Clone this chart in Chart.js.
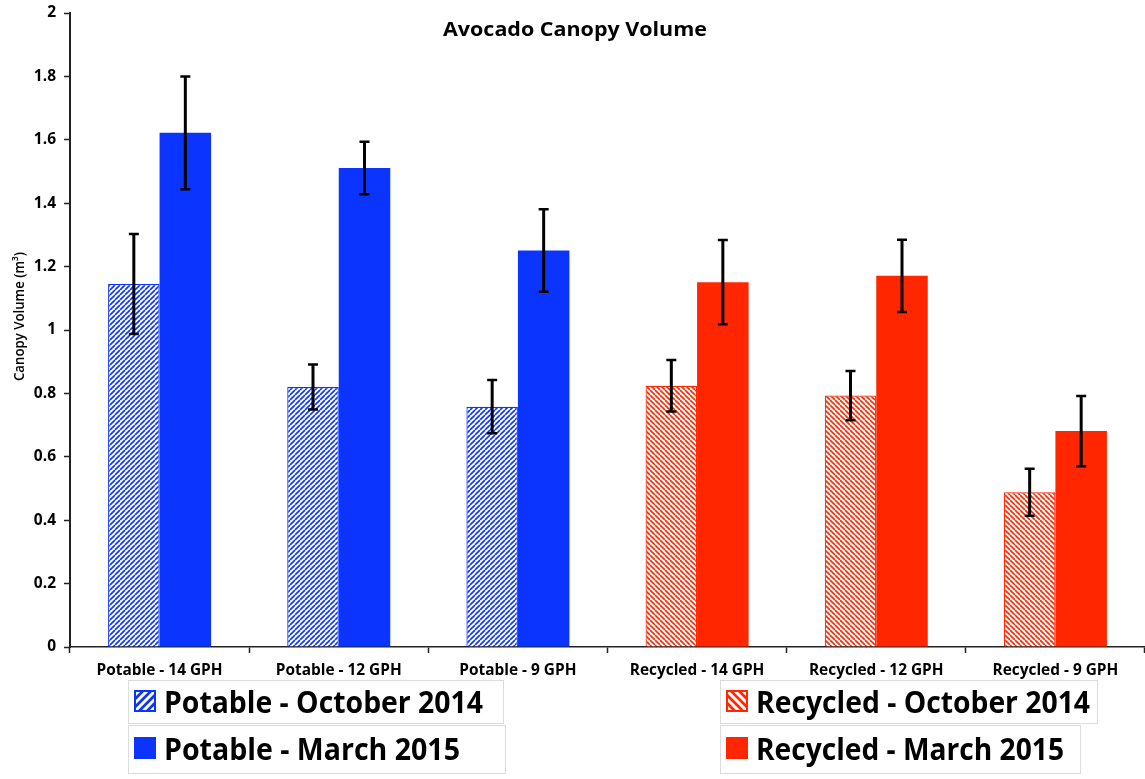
<!DOCTYPE html>
<html>
<head>
<meta charset="utf-8">
<style>
  html, body { margin: 0; padding: 0; background: #ffffff; }
  #wrap { position: relative; width: 1145px; height: 779px; }
</style>
<script src="https://cdn.jsdelivr.net/npm/chart.js@4.4.1/dist/chart.umd.min.js"></script>
</head>
<body>
<div id="wrap"><canvas id="chart" width="1145" height="779"></canvas></div>
<script>
// Treatments along the x axis
const categories = [
  'Potable - 14 GPH', 'Potable - 12 GPH', 'Potable - 9 GPH',
  'Recycled - 14 GPH', 'Recycled - 12 GPH', 'Recycled - 9 GPH'
];
// Water source of each treatment (decides bar colour)
const waterSource = ['potable', 'potable', 'potable', 'recycled', 'recycled', 'recycled'];

// Canopy volume (m³), mean and error per treatment
const october2014 = [1.145, 0.820, 0.758, 0.824, 0.793, 0.488];
const october2014Err = [0.158, 0.071, 0.084, 0.081, 0.078, 0.074];
const march2015 = [1.622, 1.511, 1.251, 1.151, 1.171, 0.681];
const march2015Err = [0.178, 0.083, 0.130, 0.133, 0.114, 0.111];

const yTicks = [0, 0.2, 0.4, 0.6, 0.8, 1, 1.2, 1.4, 1.6, 1.8, 2];

const legendLeft = ['Potable - October 2014', 'Potable - March 2015'];
const legendRight = ['Recycled - October 2014', 'Recycled - March 2015'];

const BLUE = '#0b34ff';
const RED = '#ff2600';
const FONT = '"Open Sans", "DejaVu Sans", sans-serif';

function textWidth(text, weight, size) {
  const c = document.createElement('canvas').getContext('2d');
  c.font = weight + ' ' + size + 'px ' + FONT;
  return c.measureText(text).width;
}
function fitSize(text, weight, target) {
  return 100 * target / textWidth(text, weight, 100);
}
// Draw text at a given font size, scaled horizontally to a given width
function squeezedText(g, text, weight, size, x, y, width) {
  const w = textWidth(text, weight, size);
  g.save();
  g.font = weight + ' ' + size + 'px ' + FONT;
  g.translate(x, y);
  g.scale(width / w, 1);
  g.fillText(text, 0, 0);
  g.restore();
}

function hatch(color, forward, size, lw) {
  const c = document.createElement('canvas');
  c.width = size; c.height = size;
  const g = c.getContext('2d');
  g.fillStyle = '#ffffff';
  g.fillRect(0, 0, size, size);
  g.strokeStyle = color;
  g.lineWidth = lw;
  g.beginPath();
  for (let k = -1; k <= 1; k++) {
    if (forward) {
      g.moveTo(k * size, size); g.lineTo(k * size + size, 0);
    } else {
      g.moveTo(k * size, 0); g.lineTo(k * size + size, size);
    }
  }
  g.stroke();
  return g.createPattern(c, 'repeat');
}

const ctx0 = document.getElementById('chart').getContext('2d');
const blueHatch = hatch(BLUE, true, 5, 1.6);
const redHatch = hatch(RED, false, 5, 1.6);

const colorOf = s => s === 'potable' ? BLUE : RED;
const hatchOf = s => s === 'potable' ? blueHatch : redHatch;

const xTickSize = fitSize('Potable - 14 GPH', '700', 126);

// Error bars for each dataset, drawn through the value scale
const errorBars = {
  id: 'errorBars',
  afterDatasetsDraw(chart) {
    const g = chart.ctx;
    const y = chart.scales.y;
    g.save();
    g.strokeStyle = '#000000';
    chart.data.datasets.forEach((ds, di) => {
      const meta = chart.getDatasetMeta(di);
      meta.data.forEach((bar, i) => {
        const v = ds.data[i], e = ds.errors[i];
        const top = y.getPixelForValue(v + e);
        const bot = y.getPixelForValue(v - e);
        const x = bar.x;
        g.lineWidth = 3;
        g.beginPath(); g.moveTo(x, top); g.lineTo(x, bot); g.stroke();
        g.lineWidth = 2.5;
        g.beginPath();
        g.moveTo(x - 5, top); g.lineTo(x + 5, top);
        g.moveTo(x - 5, bot); g.lineTo(x + 5, bot);
        g.stroke();
      });
    });
    g.restore();
  }
};

// Title, y axis title and the two legend panels
const decorations = {
  id: 'decorations',
  afterDraw(chart) {
    const g = chart.ctx;
    g.save();
    g.fillStyle = '#000000';
    g.textAlign = 'left'; g.textBaseline = 'alphabetic';
    // chart title
    squeezedText(g, 'Avocado Canopy Volume', '700', 20, 443, 36, 264);
    // y axis title
    g.save();
    g.translate(24, 381);
    g.rotate(-Math.PI / 2);
    squeezedText(g, 'Canopy Volume (m³)', '600', 14, 0, 0, 129);
    g.restore();
    g.restore();

    g.save();
    const panels = [
      { x: 128, items: legendLeft, src: 'potable', textW: [319, 296], boxW: [375, 377] },
      { x: 720, items: legendRight, src: 'recycled', textW: [334, 308], boxW: [377, 360] }
    ];
    const rows = [{ top: 680, h: 43, sy: 690 }, { top: 725, h: 48, sy: 737 }];
    panels.forEach(p => {
      p.items.forEach((label, r) => {
        const row = rows[r];
        g.strokeStyle = '#dcdcdc';
        g.lineWidth = 1;
        g.strokeRect(p.x + 0.5, row.top + 0.5, p.boxW[r], row.h);
        // swatch
        const sx = p.x + 6, sy = row.sy, ss = 22;
        g.fillStyle = colorOf(p.src);
        g.fillRect(sx, sy, ss, ss);
        if (r === 0) {
          g.save();
          g.beginPath(); g.rect(sx + 2, sy + 2, ss - 4, ss - 4); g.clip();
          g.strokeStyle = '#ffffff';
          g.lineWidth = 3;
          g.beginPath();
          for (let k = -2; k <= 2; k++) {
            const o = k * 8;
            if (p.src === 'potable') { g.moveTo(sx + o, sy + ss); g.lineTo(sx + o + ss, sy); }
            else { g.moveTo(sx + o, sy); g.lineTo(sx + o + ss, sy + ss); }
          }
          g.stroke();
          g.restore();
        }
        g.fillStyle = '#000000';
        g.textAlign = 'left'; g.textBaseline = 'alphabetic';
        squeezedText(g, label, '700', 30, p.x + 36, sy + ss + 1, p.textW[r]);
      });
    });
    g.restore();
  }
};

new Chart(ctx0, {
  type: 'bar',
  data: {
    labels: categories,
    datasets: [
      {
        label: 'October 2014',
        data: october2014,
        errors: october2014Err,
        backgroundColor: waterSource.map(hatchOf),
        borderColor: waterSource.map(colorOf),
        borderWidth: 1.2,
        categoryPercentage: 0.575,
        barPercentage: 1.0
      },
      {
        label: 'March 2015',
        data: march2015,
        errors: march2015Err,
        backgroundColor: waterSource.map(colorOf),
        borderWidth: 0,
        categoryPercentage: 0.575,
        barPercentage: 1.0
      }
    ]
  },
  options: {
    responsive: false,
    animation: false,
    layout: { padding: { top: 13, right: 0, left: 0, bottom: 0 } },
    plugins: {
      legend: { display: false },
      title: { display: false },
      tooltip: { enabled: false }
    },
    scales: {
      x: {
        offset: true,
        grid: {
          display: true, drawOnChartArea: false, drawTicks: true,
          tickLength: 6, tickWidth: 1.5, tickColor: '#222222', offset: true
        },
        border: { display: true, color: '#222222', width: 1.5 },
        ticks: {
          color: '#000000',
          font: { family: FONT, weight: '700', size: xTickSize },
          padding: 8, maxRotation: 0, autoSkip: false
        },
        afterFit(scale) {
          scale.height = 132;
          scale.paddingLeft = 0; scale.paddingRight = 0;
        }
      },
      y: {
        min: 0, max: 2,
        afterBuildTicks(scale) { scale.ticks = yTicks.map(v => ({ value: v })); },
        grid: {
          display: true, drawOnChartArea: false, drawTicks: true,
          tickLength: 6, tickWidth: 1.5, tickColor: '#222222'
        },
        border: { display: true, color: '#222222', width: 2 },
        ticks: {
          color: '#000000',
          font: { family: FONT, weight: '700', size: 15.5 },
          padding: 8,
          callback: v => String(v)
        },
        afterFit(scale) {
          scale.width = 70;
          scale.paddingTop = 0; scale.paddingBottom = 0;
        }
      }
    }
  },
  plugins: [errorBars, decorations]
});
</script>
</body>
</html>
